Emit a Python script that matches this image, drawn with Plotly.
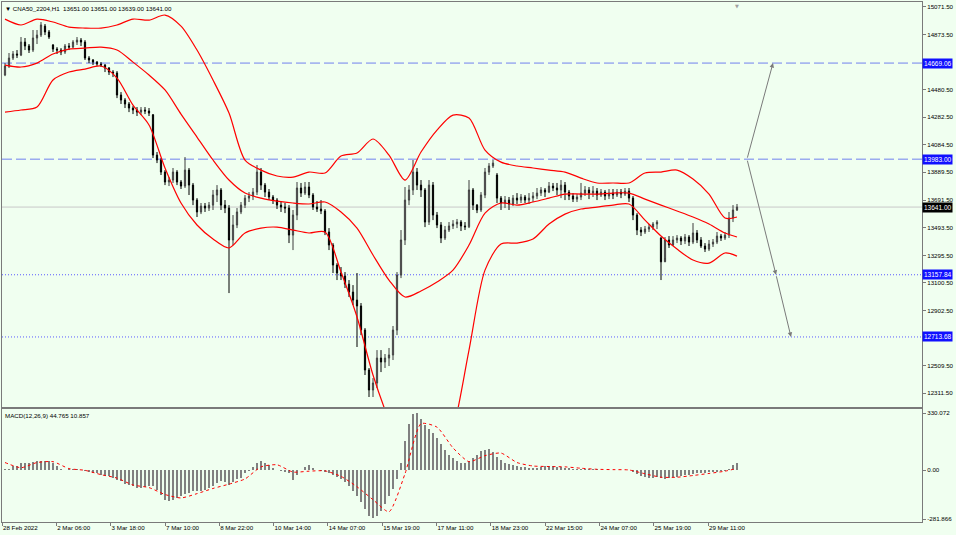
import plotly.graph_objects as go

# ---------------- data ----------------
open_p = [14584,14648,14705,14734,14726,14819,14791,14762,14848,14869,14933,14891,14798,14769,14762,14748,14791,14783,14819,14833,
          14819,14705,14691,14676,14662,14655,14634,14605,14598,14441,14405,14377,14348,14334,14319,14334,14327,14300,14012,13977,
          13891,13820,13834,13891,13820,13791,13905,13798,13691,13606,13648,13634,13655,13727,13763,13655,13634,13406,13513,13606,
          13655,13705,13720,13748,13891,13798,13748,13713,13691,13655,13641,13634,13441,13584,13777,13741,13784,13727,13641,13627,
          13613,13463,13370,13227,13170,13149,13091,13034,12977,12935,12763,12478,12335,12385,12563,12535,12563,12585,12763,13156,
          13406,13691,13763,13891,13798,13763,13534,13798,13584,13513,13420,13477,13506,13520,13534,13506,13500,13763,13655,13620,
          13727,13891,13934,13870,13705,13670,13691,13663,13705,13691,13713,13691,13705,13720,13741,13763,13748,13791,13777,13763,
          13798,13748,13720,13698,13713,13741,13763,13741,13755,13727,13748,13720,13741,13727,13748,13734,13755,13705,13584,13477,
          13463,13484,13498,13520,13420,13250,13406,13370,13406,13420,13399,13427,13391,13456,13406,13363,13341,13377,13391,13434,
          13420,13441,13563,13620]
high_p = [14669,14741,14755,14762,14855,14848,14805,14905,14905,14962,14948,14905,14805,14783,14776,14805,14812,14833,14855,14848,
          14833,14719,14698,14684,14676,14662,14641,14619,14612,14462,14419,14391,14362,14355,14355,14355,14348,14305,14034,13991,
          13905,13855,13920,13905,13834,13998,13920,13813,13705,13670,13670,13677,13763,13798,13777,13691,13655,13584,13634,13677,
          13727,13748,13777,13941,13920,13813,13770,13727,13705,13684,13670,13655,13620,13820,13813,13820,13820,13741,13684,13691,
          13627,13491,13384,13241,13213,13177,13120,13084,13170,12956,12777,12492,12420,12620,12620,12592,12635,12792,13177,13477,
          13784,13798,13977,13920,13834,13777,13834,13820,13606,13534,13506,13534,13548,13556,13548,13534,13834,13777,13663,13748,
          13920,13955,13977,13884,13720,13720,13713,13727,13741,13734,13727,13741,13748,13777,13784,13777,13820,13813,13813,13834,
          13820,13763,13741,13734,13813,13791,13784,13791,13777,13770,13763,13770,13770,13770,13770,13777,13777,13720,13598,13498,
          13506,13520,13534,13548,13427,13427,13434,13434,13441,13434,13449,13441,13527,13477,13427,13384,13406,13413,13463,13449,
          13463,13606,13655,13663]
low_p = [14576,14634,14691,14705,14719,14762,14741,14748,14805,14855,14869,14841,14748,14734,14726,14734,14762,14776,14798,14791,
         14691,14669,14655,14648,14641,14605,14584,14569,14419,14377,14348,14319,14305,14291,14298,14305,14291,13991,13955,13870,
         13798,13791,13813,13798,13770,13777,13727,13655,13570,13591,13606,13613,13620,13677,13620,13598,13027,13370,13491,13591,
         13634,13677,13691,13727,13763,13713,13691,13663,13627,13606,13598,13384,13334,13548,13713,13727,13705,13620,13606,13591,
         13441,13334,13170,13120,13120,13063,12999,12942,12642,12727,12442,12285,12285,12349,12463,12492,12506,12549,12727,13134,
         13370,13655,13727,13763,13713,13498,13513,13548,13491,13384,13406,13463,13484,13491,13470,13477,13491,13620,13598,13606,
         13705,13870,13920,13670,13620,13634,13620,13648,13663,13670,13670,13663,13677,13698,13720,13713,13741,13755,13727,13705,
         13691,13691,13677,13677,13691,13720,13698,13713,13691,13713,13691,13698,13698,13713,13705,13720,13677,13548,13441,13434,
         13449,13463,13477,13484,13120,13277,13349,13363,13384,13370,13377,13363,13377,13384,13349,13320,13327,13356,13377,13399,
         13406,13420,13534,13613]
close_p = [14648,14705,14734,14726,14819,14791,14762,14848,14869,14941,14891,14855,14769,14762,14748,14791,14783,14819,14833,14819,
           14705,14691,14676,14662,14655,14634,14605,14598,14441,14405,14377,14348,14334,14319,14334,14327,14312,14012,13977,13891,
           13820,13834,13891,13820,13791,13905,13798,13691,13606,13648,13634,13655,13727,13763,13655,13634,13406,13513,13606,13655,
           13705,13720,13748,13891,13798,13748,13713,13691,13655,13641,13634,13441,13584,13777,13741,13784,13727,13641,13627,13613,
           13463,13370,13227,13170,13149,13091,13034,12977,12935,12763,12478,12335,12385,12563,12535,12563,12585,12763,13156,13406,
           13691,13763,13891,13798,13763,13534,13798,13584,13513,13420,13477,13506,13520,13534,13506,13500,13763,13655,13620,13727,
           13891,13934,13955,13705,13670,13691,13663,13705,13691,13713,13691,13705,13720,13741,13763,13748,13791,13777,13763,13798,
           13748,13720,13698,13713,13741,13763,13741,13755,13727,13748,13720,13741,13727,13748,13734,13755,13705,13584,13477,13463,
           13484,13498,13520,13534,13250,13406,13370,13406,13420,13399,13427,13391,13456,13406,13363,13341,13377,13391,13434,13420,
           13441,13563,13620,13641]

# Bollinger band readings, one sample every 4 candles (8 hourly bars) + last bar
band_hours = list(range(0, 361, 8)) + [366]
bb_upper = [14983,14941,14983,14962,14926,14919,14919,14941,14983,14976,15012,14933,14762,14548,14312,13977,13905,13863,13855,13891,
            13884,14005,14027,14127,14012,13834,14034,14191,14298,14277,14048,13962,13934,13920,13905,13891,13848,13813,13813,13813,
            13884,13891,13905,13841,13734,13563,13570]
bb_middle = [14655,14641,14669,14734,14769,14776,14783,14762,14676,14584,14477,14305,14141,13977,13834,13741,13705,13684,13670,13663,
             13677,13606,13491,13299,13120,12999,13042,13106,13191,13370,13598,13670,13655,13677,13705,13734,13734,13734,13741,13741,
             13698,13655,13613,13570,13520,13456,13427]
bb_lower = [14319,14334,14355,14548,14605,14626,14648,14562,14369,14227,13920,13670,13513,13413,13349,13456,13491,13498,13477,13456,
            13463,13177,12856,12442,12121,11871,11728,11764,12049,12620,13191,13377,13384,13413,13520,13591,13627,13641,13655,13663,
            13548,13434,13341,13263,13241,13313,13291]

# MACD(12,26,9) histogram, one value per candle
macd_main = [10,10,23,23,45,45,45,50,52,54, 56,56,45,25,8,3,5,8,8,2,
             -3,-10,-15,-17,-25,-33,-35,-45,-54,-60, -78,-85,-92,-100,-100,-95,-92,-90,-115,-145,
             -172,-180,-172,-160,-150,-138,-130,-122,-120,-118, -112,-102,-90,-72,-64,-68,-83,-66,-52,-42,
             -18,-2,18,40,52,42,28,12,0,-6, -10,-15,-55,-28,0,18,30,12,2,-5,
             -10,-18,-28,-38,-50,-65,-90,-120,-150,-185, -225,-262,-278,-265,-235,-195,-150,-110,-50,40,
             170,270,325,330,300,265,240,215,185,150, 115,90,70,55,45,42,55,70,90,110,
             118,122,105,80,60,45,35,28,24,20, 18,16,15,16,20,24,26,25,22,20,
             16,12,10,8,8,6,6,5,5,4, 4,3,3,3,2,2,0,-8,-20,-32,
             -40,-44,-42,-40,-45,-50,-45,-40,-36,-32, -28,-25,-22,-18,-15,-14,-12,-10,-8,-5,
             -2,10,30,45]
macd_signal = [45,15,45,50,10,0,-25,-45,-85,-100,-140,-160,-135,-105,-80,-50,20,32,-10,-5,
               -3,-35,-95,-170,-240,-20,270,250,130,50,85,100,45,25,22,20,12,6,4,2,
               -20,-40,-40,-30,-18,-5,11]

# time axis labels (position in hourly bars)
tick_hours = [-1.5, 25.6, 52.8, 80.0, 107.1, 134.3, 161.4, 188.6, 215.7, 242.9, 270.0, 297.2, 324.3, 351.5]
tick_labels = ["28 Feb 2022", "2 Mar 06:00", "3 Mar 18:00", "7 Mar 10:00", "8 Mar 22:00", "10 Mar 14:00",
               "14 Mar 07:00", "15 Mar 19:00", "17 Mar 11:00", "18 Mar 23:00", "22 Mar 15:00", "24 Mar 07:00",
               "25 Mar 19:00", "29 Mar 11:00"]
price_ticks = [15071.50, 14873.50, 14480.50, 14282.50, 14084.50, 13889.50, 13691.50, 13493.50,
               13295.50, 13100.50, 12902.50, 12509.50, 12311.50]
macd_ticks = [330.072, 0.0, -281.866]
macd_tick_labels = ["330.072", "0.00", "-281.866"]

# levels
dashed_levels = [14669.06, 13983.00]
dotted_levels = [13157.84, 12713.68]
last_price = 13641.00
# projection arrows (hour position, price)
arrow_hours = [371, 384, 385.5, 393]
arrow_prices = [13983.00, 14669.06, 13157.84, 12713.68]
shift_marker_hour = 366

candle_hours = [2 * i for i in range(len(close_p))]

BG = "#F0FFF0"
FONT = "Liberation Sans, Arial, DejaVu Sans"
FRAME = "#7a7a7a"

fig = go.Figure()

fig.add_trace(go.Candlestick(
    x=candle_hours, open=open_p, high=high_p, low=low_p, close=close_p,
    increasing=dict(line=dict(color="#3c3c3c", width=1), fillcolor="#ffffff"),
    decreasing=dict(line=dict(color="#000000", width=1), fillcolor="#000000"),
    whiskerwidth=0, showlegend=False, hoverinfo="skip", xaxis="x", yaxis="y"))

for band in (bb_upper, bb_middle, bb_lower):
    fig.add_trace(go.Scatter(x=band_hours, y=band, mode="lines",
                             line=dict(color="#ff0000", width=1.2, shape="spline", smoothing=0.8),
                             showlegend=False, hoverinfo="skip", xaxis="x", yaxis="y"))

fig.add_trace(go.Bar(x=candle_hours, y=macd_main, width=1.0, marker=dict(color="#808080", line=dict(width=0)),
                     showlegend=False, hoverinfo="skip", xaxis="x2", yaxis="y2"))
fig.add_trace(go.Scatter(x=band_hours, y=macd_signal, mode="lines",
                         line=dict(color="#ff0000", width=1, dash="dot", shape="spline", smoothing=0.6),
                         showlegend=False, hoverinfo="skip", xaxis="x2", yaxis="y2"))

shapes = []
for lv in dashed_levels:
    shapes.append(dict(type="line", xref="paper", x0=0, x1=1, yref="y", y0=lv, y1=lv,
                       line=dict(color="#7080ee", width=1, dash="10px,4px"), layer="below"))
for lv in dotted_levels:
    shapes.append(dict(type="line", xref="paper", x0=0, x1=1, yref="y", y0=lv, y1=lv,
                       line=dict(color="#5a5aff", width=1, dash="1px,2px"), layer="below"))
shapes.append(dict(type="line", xref="paper", x0=0, x1=1, yref="y", y0=last_price, y1=last_price,
                   line=dict(color="#c8c8c8", width=1), layer="below"))

annotations = []
for lv in dashed_levels + dotted_levels:
    annotations.append(dict(xref="paper", x=1, xanchor="left", xshift=0, yref="y", y=lv, yanchor="middle",
                            text=f"{lv:.2f}", showarrow=False, bgcolor="#1010ff", borderpad=1,
                            font=dict(family=FONT, size=6.5, color="#ffffff")))
annotations.append(dict(xref="paper", x=1, xanchor="left", xshift=0, yref="y", y=last_price, yanchor="middle",
                        text=f"{last_price:.2f}", showarrow=False, bgcolor="#000000", borderpad=1,
                        font=dict(family=FONT, size=6.5, color="#ffffff")))

# projection arrows
segs = [(0, 1), (0, 2), (2, 3)]
for a, b in segs:
    annotations.append(dict(xref="x", yref="y", axref="x", ayref="y",
                            x=arrow_hours[b], y=arrow_prices[b], ax=arrow_hours[a], ay=arrow_prices[a],
                            text="", showarrow=True, arrowhead=2, arrowsize=0.9, arrowwidth=1,
                            arrowcolor="#7a7a7a"))

# chart shift marker at the top edge
annotations.append(dict(xref="x", yref="paper", x=shift_marker_hour, y=1, yanchor="top", yshift=1,
                        text="▼", showarrow=False, font=dict(family="DejaVu Sans", size=5, color="#a0a0a0")))

annotations.append(dict(xref="paper", yref="paper", x=0, y=1, xanchor="left", yanchor="top", xshift=1, yshift=-1,
                        text="▼ CNA50_2204,H1  13651.00 13651.00 13639.00 13641.00", showarrow=False,
                        font=dict(family=FONT, size=6.2, color="#000000")))
annotations.append(dict(xref="paper", yref="y2 domain", x=0, y=1, xanchor="left", yanchor="top", xshift=1, yshift=-1,
                        text="MACD(12,26,9) 44.765 10.857", showarrow=False,
                        font=dict(family=FONT, size=6.2, color="#000000")))

axis_common = dict(showgrid=False, zeroline=False, showline=True, mirror=True, linecolor=FRAME, linewidth=1)

fig.update_layout(
    width=956, height=535,
    margin=dict(l=2, r=34, t=2, b=13),
    paper_bgcolor=BG, plot_bgcolor=BG,
    font=dict(family=FONT, size=6.2, color="#000000"),
    shapes=shapes, annotations=annotations,
    bargap=0, boxgap=0.7, boxgroupgap=0,
    xaxis=dict(domain=[0, 1], range=[-1.5, 458.5], anchor="y", showticklabels=False, ticks="",
               rangeslider=dict(visible=False), **axis_common),
    yaxis=dict(domain=[0.2212, 1], range=[12213.8, 15105.1], side="right", anchor="x",
               tickvals=price_ticks, ticktext=[f"{v:.2f}" for v in price_ticks],
               ticks="outside", ticklen=3, tickcolor=FRAME, tickfont=dict(size=6.2), **axis_common),
    xaxis2=dict(domain=[0, 1], range=[-1.5, 458.5], anchor="y2", matches="x",
                tickvals=tick_hours, ticktext=tick_labels, ticks="outside", ticklen=3, tickcolor=FRAME,
                ticklabelposition="outside right", tickfont=dict(size=6.2), **axis_common),
    yaxis2=dict(domain=[0, 0.2173], range=[-299.2, 355.0], side="right", anchor="x2",
                tickvals=macd_ticks, ticktext=macd_tick_labels,
                ticks="outside", ticklen=3, tickcolor=FRAME, tickfont=dict(size=6.2), **axis_common),
)

fig.write_html("out.html", config={"displayModeBar": False, "staticPlot": True},
               post_script="document.body.style.margin='0';document.body.style.padding='0';"
                           "document.body.style.background='#F0FFF0';document.body.style.overflow='hidden';")
